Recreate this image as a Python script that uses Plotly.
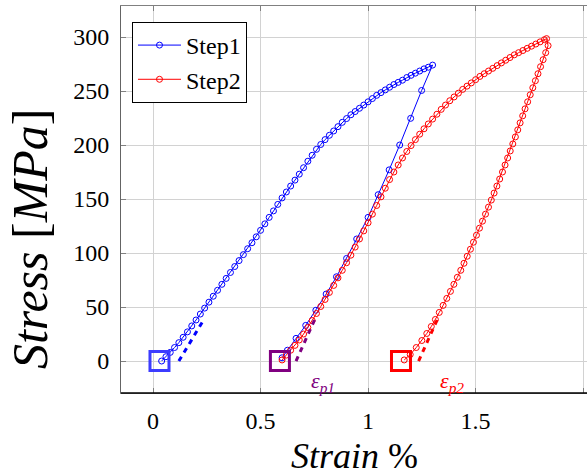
import plotly.graph_objects as go

# ---------------- data ----------------
step1_load_x = [0.04, 0.06, 0.08, 0.10, 0.12, 0.14, 0.16, 0.18, 0.20, 0.22, 0.24, 0.26, 0.28, 0.30,
                0.32, 0.34, 0.36, 0.38, 0.40, 0.42, 0.44, 0.46, 0.48, 0.50, 0.52, 0.54, 0.56, 0.58,
                0.60, 0.62, 0.64, 0.66, 0.68, 0.70, 0.72, 0.74, 0.76, 0.78, 0.80, 0.82, 0.84, 0.86,
                0.88, 0.90, 0.92, 0.94, 0.96, 0.98, 1.00, 1.02, 1.04, 1.06, 1.08, 1.10, 1.12, 1.14,
                1.16, 1.18, 1.20, 1.22, 1.24, 1.26, 1.28, 1.30]
step1_load_y = [0, 4, 8, 12.5, 17, 22, 27, 32.5, 38, 43.5, 49, 54.5, 60, 65.5,
                71, 76.5, 82, 87.5, 93, 98.5, 104, 109.5, 115, 121, 127, 133, 139, 145,
                151, 156.5, 162, 167.5, 173, 179, 185, 190.5, 196, 200.5, 205, 209, 213, 217,
                221, 224.5, 228, 231, 234, 237, 240, 243, 246, 248.5, 251, 253.5, 256, 258,
                260, 262.5, 264.5, 266.5, 268.5, 270.5, 272, 274]
step1_unload_x = [1.249, 1.198, 1.147, 1.098, 1.047, 1.000, 0.947, 0.900, 0.853, 0.805,
                  0.757, 0.710, 0.665, 0.625, 0.600]
step1_unload_y = [250.5, 224.7, 200, 177, 154, 133, 113, 95, 78, 62,
                  47, 33, 21, 10, 3]

step2_load_x = [0.60, 0.62, 0.64, 0.66, 0.68, 0.70, 0.72, 0.74, 0.76, 0.78, 0.80, 0.82, 0.84, 0.86,
                0.88, 0.90, 0.92, 0.94, 0.96, 0.98, 1.00, 1.02, 1.04, 1.06, 1.08, 1.10, 1.12, 1.14,
                1.16, 1.18, 1.20, 1.22, 1.24, 1.26, 1.28, 1.30, 1.32, 1.34, 1.36, 1.38, 1.40, 1.42,
                1.44, 1.46, 1.48, 1.50, 1.52, 1.54, 1.56, 1.58, 1.60, 1.62, 1.64, 1.66, 1.68, 1.70,
                1.72, 1.74, 1.76, 1.78, 1.80, 1.82, 1.83]
step2_load_y = [1, 5.5, 10, 14.5, 19.5, 25, 31, 37.5, 44, 50.5, 57, 63.5, 70, 77,
                84, 91, 98, 105.5, 113, 120.5, 128, 136, 144, 152, 160, 168, 175, 181.5,
                188, 194, 199.5, 205, 210, 215, 219.5, 224, 228.5, 233, 237, 241, 244.5, 248,
                251.5, 254.5, 257.5, 260.5, 263.5, 266, 268.5, 271, 273.5, 276, 278.5, 281, 283.5, 285.5,
                287.5, 289.5, 291.5, 293.5, 295.5, 297.5, 298.5]
step2_unload_x = [1.837, 1.826, 1.814, 1.802, 1.790, 1.778, 1.766, 1.754, 1.742, 1.730, 1.719, 1.707,
                  1.696, 1.685, 1.673, 1.661, 1.649, 1.637, 1.625, 1.612, 1.599, 1.586, 1.573, 1.560,
                  1.546, 1.532, 1.518, 1.504, 1.490, 1.476, 1.461, 1.446, 1.431, 1.415, 1.399, 1.383,
                  1.366, 1.349, 1.331, 1.313, 1.294, 1.273, 1.250, 1.224, 1.196, 1.168]
step2_unload_y = [292, 285.5, 279, 272.5, 266, 259.5, 253, 246.5, 240, 233.5, 227, 220.5,
                  214, 207.5, 201, 194.5, 188, 181.5, 175, 168.5, 162, 155.5, 149, 142.5,
                  136, 129.5, 123, 116.5, 110, 103.5, 97, 90.5, 84, 77.5, 71, 64.5,
                  58, 51.5, 45, 38.5, 32, 25.5, 19, 12.5, 6, 1]

# plastic-strain markers (squares) and offset construction lines
marker_names = ["start", "eps_p1", "eps_p2"]
marker_x = [0.03, 0.59, 1.153]
marker_y = [0, 0, 0]
offset1_x = [0.12, 0.235]
offset1_y = [0, 38]
offset2_x = [0.665, 0.76]
offset2_y = [0, 42]
offset3_x = [1.235, 1.33]
offset3_y = [0, 42]

label_x = [0.79, 1.39]
label_y = [-19, -19]
label_text = ["<i>ε</i><sub><i>p1</i></sub>", "<i>ε</i><sub><i>p2</i></sub>"]

x_ticks = [0, 0.5, 1, 1.5, 2]
x_ticktext = ["0", "0.5", "1", "1.5", "2"]
y_ticks = [0, 50, 100, 150, 200, 250, 300]

BLUE = "rgb(0,0,255)"
RED = "rgb(255,0,0)"
PURPLE = "rgb(128,0,128)"
FONT = "'Liberation Serif', 'DejaVu Serif', 'Times New Roman', serif"

fig = go.Figure()

fig.add_trace(go.Scatter(
    x=step1_load_x + step1_unload_x, y=step1_load_y + step1_unload_y,
    mode="lines+markers", name="Step1",
    line=dict(color=BLUE, width=1),
    marker=dict(symbol="circle-open", size=6, color=BLUE, line=dict(width=1, color=BLUE)),
))
fig.add_trace(go.Scatter(
    x=step2_load_x + step2_unload_x, y=step2_load_y + step2_unload_y,
    mode="lines+markers", name="Step2",
    line=dict(color=RED, width=1),
    marker=dict(symbol="circle-open", size=6, color=RED, line=dict(width=1, color=RED)),
))

for xs, ys, col in [(offset1_x, offset1_y, BLUE), (offset2_x, offset2_y, PURPLE), (offset3_x, offset3_y, RED)]:
    fig.add_trace(go.Scatter(x=xs, y=ys, mode="lines", showlegend=False,
                             line=dict(color=col, width=3, dash="5px,5px"), hoverinfo="skip"))

fig.add_trace(go.Scatter(
    x=marker_x, y=marker_y, mode="markers", showlegend=False, text=marker_names,
    marker=dict(symbol="square-open", size=19,
                color=["rgb(60,60,255)", PURPLE, RED],
                line=dict(width=3, color=["rgb(60,60,255)", PURPLE, RED])),
))

for lx, ly, lt, col in zip(label_x, label_y, label_text, [PURPLE, RED]):
    fig.add_annotation(x=lx, y=ly, text=lt, showarrow=False,
                       font=dict(family=FONT, size=22, color=col))

fig.add_annotation(xref="paper", yref="paper", x=0.5, y=-0.162, yanchor="middle",
                   text="<i>Strain</i> %", showarrow=False,
                   font=dict(family=FONT, size=36, color="black"))
fig.add_annotation(xref="paper", yref="paper", x=-0.195, y=0.398, xanchor="center",
                   yanchor="middle", textangle=-90,
                   text="<i>Stress</i> [<i>MPa</i>]", showarrow=False,
                   font=dict(family=FONT, size=50, color="black"))

fig.update_layout(
    width=587, height=476,
    margin=dict(l=121, r=0, t=6, b=83),
    paper_bgcolor="white", plot_bgcolor="white",
    font=dict(family=FONT, size=24, color="black"),
    showlegend=True,
    legend=dict(x=0.0236, y=0.9587, xanchor="left", yanchor="top",
                bgcolor="white", bordercolor="black", borderwidth=1,
                font=dict(family=FONT, size=24), tracegroupgap=0, itemwidth=43),
    xaxis=dict(range=[-0.149, 2.018], tickvals=x_ticks, ticktext=x_ticktext,
               showgrid=True, gridcolor="rgb(210,210,210)", gridwidth=1, zeroline=False,
               showline=True, linecolor="rgb(128,128,128)", linewidth=1, mirror="ticks",
               ticks="inside", ticklen=5, tickcolor="rgb(128,128,128)", ticklabelstandoff=6),
    yaxis=dict(range=[-29.6, 328.7], tickvals=y_ticks,
               showgrid=True, gridcolor="rgb(210,210,210)", gridwidth=1, zeroline=False,
               showline=True, linecolor="rgb(100,100,100)", linewidth=1, mirror=False,
               ticks="inside", ticklen=5, tickcolor="rgb(128,128,128)", ticklabelstandoff=6),
)
fig.add_shape(type="line", xref="paper", yref="paper", x0=0, x1=1, y0=0, y1=0,
              line=dict(color="black", width=1.5))

fig.write_html("out.html")
